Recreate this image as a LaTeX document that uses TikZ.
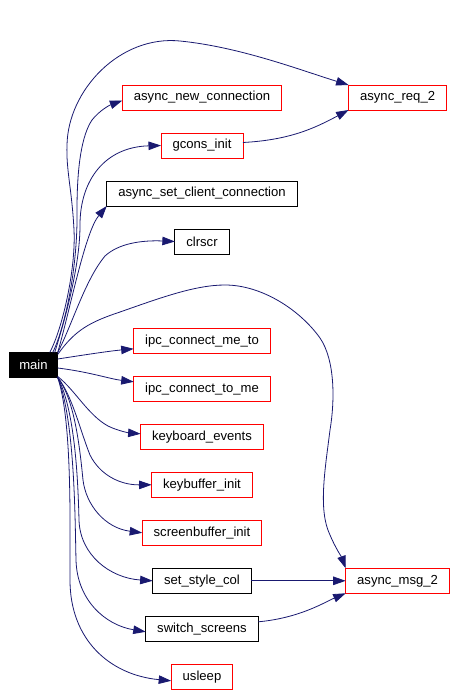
\documentclass[tikz,border=0pt]{standalone}
\usepackage{fontspec}
\setmainfont{Liberation Sans}
\usetikzlibrary{arrows.meta,positioning}
\definecolor{callc}{HTML}{191970}
\definecolor{linkc}{HTML}{FF0000}
\tikzset{
  fn/.style={draw=black, line width=0.8pt, fill=white, inner xsep=11.5pt, inner ysep=0pt,
             outer sep=0pt, minimum height=25pt, font=\fontsize{13.1}{15}\selectfont},
  fnlink/.style={fn, draw=linkc},
  root/.style={fn, fill=black, text=white, inner xsep=10pt},
  call/.style={-{Triangle[length=12.5pt,width=8.5pt]}, line width=0.8pt, draw=callc},
}
\begin{document}
\begin{tikzpicture}[x=1pt, y=-1pt, node distance=23pt]
  \useasboundingbox (0,0) rectangle (458,695);
  \node[root] (main) at (33.5,365) {main};
  \node[fnlink] (anc) at (202,97.5) {async\_new\_connection};
  \node[fnlink, below=of anc] (gci) {gcons\_init};
  \node[fn, below=of gci] (ascc) {async\_set\_client\_connection};
  \node[fn, below=of ascc] (clr) {clrscr};
  \node[fnlink, below=74.3pt of clr] (ipcm) {ipc\_connect\_me\_to};
  \node[fnlink, below=of ipcm] (ipct) {ipc\_connect\_to\_me};
  \node[fnlink, below=of ipct] (kbe) {keyboard\_events};
  \node[fnlink, below=of kbe] (kbi) {keybuffer\_init};
  \node[fnlink, below=of kbi] (sbi) {screenbuffer\_init};
  \node[fn, below=of sbi] (ssc) {set\_style\_col};
  \node[fn, below=of ssc] (sws) {switch\_screens};
  \node[fnlink, below=of sws] (usl) {usleep};
  \node[fnlink, right=67pt of anc] (req) {async\_req\_2};
  \node[fnlink] (msg) at (req |- ssc) {async\_msg\_2};
  \draw[call] ([xshift=-8pt]main.north east) .. controls (62,330) and (76,270) .. (74,230)
    .. controls (72,190) and (66,170) .. (67,145)
    .. controls (68,90) and (120,35) .. (180,41)
    .. controls (240,47) and (300,70) .. (req.north west);
  \draw[call] ([xshift=-5pt]main.north east) .. controls (64,330) and (78,270) .. (77,210)
    .. controls (77,165) and (82,135) .. (92,120)
    .. controls (100,110) and (110,105) .. ([yshift=-3pt]anc.west);
  \draw[call] ([xshift=-3pt]main.north east) .. controls (68,310) and (80,262) .. (80,225)
    .. controls (80,180) and (105,147) .. (gci.west);
  \draw[call] (main.north east) .. controls (70,310) and (85,232) .. (ascc.south west);
  \draw[call] (main.north east) .. controls (72,325) and (85,280) .. (105,256)
    .. controls (118,244) and (140,240) .. (clr.west);
  \draw[call] ([yshift=-2pt]main.north east) .. controls (75,330) and (90,322) .. (120,312)
    .. controls (160,298) and (195,285) .. (225,285)
    .. controls (262,285) and (300,310) .. (320,338)
    .. controls (335,360) and (335,400) .. (330,430)
    .. controls (325,470) and (318,510) .. (330,535)
    .. controls (335,547) and (342,558) .. (msg.north west);
  \draw[call] ([yshift=6pt]main.east) .. controls (90,354) and (110,351) .. ([yshift=-8pt]ipcm.west);
  \draw[call] ([yshift=-3pt]main.east) .. controls (90,372) and (110,379) .. ([yshift=7pt]ipct.west);
  \draw[call] ([yshift=1pt]main.south east) .. controls (75,390) and (88,415) .. (108,426)
    .. controls (118,431) and (130,433) .. ([yshift=3pt]kbe.west);
  \draw[call] (main.south east) .. controls (72,395) and (80,430) .. (90,455)
    .. controls (100,475) and (120,485) .. (kbi.west);
  \draw[call] (main.south east) .. controls (75,400) and (80,450) .. (83,480)
    .. controls (86,505) and (105,528) .. (sbi.west);
  \draw[call] (main.south east) .. controls (75,410) and (78,480) .. (79,520)
    .. controls (80,555) and (110,578) .. (ssc.west);
  \draw[call] (main.south east) .. controls (75,420) and (75,520) .. (76,560)
    .. controls (77,600) and (105,625) .. ([yshift=-3pt]sws.west);
  \draw[call] (main.south east) .. controls (72,420) and (70,520) .. (70,580)
    .. controls (70,640) and (110,675) .. ([yshift=-4pt]usl.west);
  \draw[call] ([yshift=3pt]gci.east) .. controls (290,140) and (315,128) .. (req.south west);
  \draw[call] (ssc.east) -- (msg.west);
  \draw[call] ([yshift=7pt]sws.east) .. controls (300,618) and (325,602) .. (msg.south west);
\end{tikzpicture}
\end{document}
